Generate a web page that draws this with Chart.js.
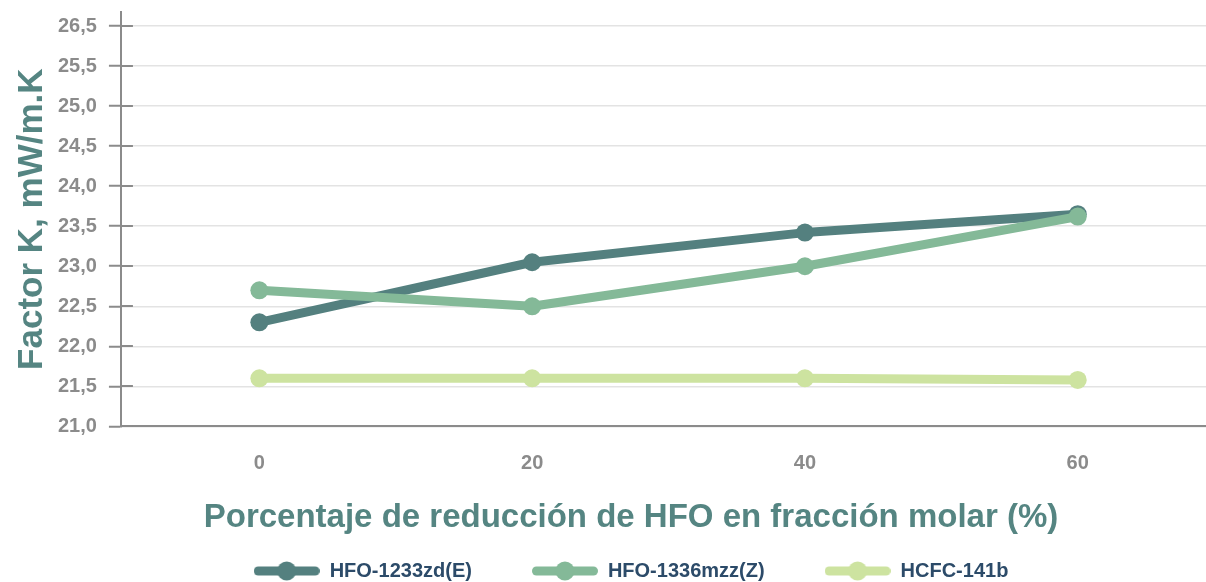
<!DOCTYPE html>
<html>
<head>
<meta charset="utf-8">
<script src="https://cdn.jsdelivr.net/npm/chart.js@4.4.1/dist/chart.umd.min.js"></script>
<style>
  html, body { margin: 0; padding: 0; background: #ffffff; overflow: hidden; }
  #wrap { width: 1262px; height: 582px; }
</style>
</head>
<body>
<div id="wrap"><canvas id="c" width="1262" height="582"></canvas></div>
<script>
// ---- data ----
const categories = [0, 20, 40, 60];
const seriesNames = ['HFO-1233zd(E)', 'HFO-1336mzz(Z)', 'HCFC-141b'];
const hfo1233zd = [22.3, 23.05, 23.42, 23.65];
const hfo1336mzz = [22.7, 22.5, 23.0, 23.62];
const hcfc141b = [21.6, 21.6, 21.6, 21.58];
const yTickValues = [21.0, 21.5, 22.0, 22.5, 23.0, 23.5, 24.0, 24.5, 25.0, 25.5, 26.0];
const yTickLabels = ['21,0', '21,5', '22,0', '22,5', '23,0', '23,5', '24,0', '24,5', '25,0', '25,5', '26,5'];
const xTitle = 'Porcentaje de reducción de HFO en fracción molar (%)';
const yTitle = 'Factor K, mW/m.K';

// ---- styles ----
const colors = ['#54807f', '#84b998', '#cde3a0'];
const FONT = "'Liberation Sans', Arial, Helvetica, sans-serif";
const tickGray = '#8b8b8b';
const titleColor = '#558582';
const legendColor = '#2c4b69';

function makeSwatch(color) {
  const cv = document.createElement('canvas');
  cv.width = 66; cv.height = 20;
  const g = cv.getContext('2d');
  g.strokeStyle = color; g.fillStyle = color;
  g.lineWidth = 9; g.lineCap = 'round';
  g.beginPath(); g.moveTo(4.5, 10); g.lineTo(61.5, 10); g.stroke();
  g.beginPath(); g.arc(33, 10, 9.5, 0, Math.PI * 2); g.fill();
  return cv;
}
const swatches = colors.map(makeSwatch);

function toPoints(vals) { return categories.map((c, i) => ({ x: c, y: vals[i] })); }

const allSeries = [hfo1233zd, hfo1336mzz, hcfc141b];
const drawOrder = [2, 1, 3];
const datasets = allSeries.map((vals, i) => ({
  label: seriesNames[i],
  data: toPoints(vals),
  borderColor: colors[i],
  backgroundColor: colors[i],
  borderWidth: 9,
  pointRadius: 9,
  pointHoverRadius: 9,
  pointBorderWidth: 0,
  pointBackgroundColor: colors[i],
  borderCapStyle: 'round',
  borderJoinStyle: 'round',
  tension: 0,
  order: drawOrder[i]
}));

const innerTicks = {
  id: 'innerTicks',
  beforeDatasetsDraw(chart) {
    const y = chart.scales.y;
    const ctx = chart.ctx;
    ctx.save();
    ctx.strokeStyle = '#8b8b8b';
    ctx.lineWidth = 2;
    y.ticks.forEach(t => {
      const py = Math.round(y.getPixelForValue(t.value));
      ctx.beginPath();
      ctx.moveTo(chart.chartArea.left, py);
      ctx.lineTo(chart.chartArea.left + 12, py);
      ctx.stroke();
    });
    ctx.restore();
  }
};

new Chart(document.getElementById('c'), {
  type: 'line',
  data: { datasets },
  plugins: [innerTicks],
  options: {
    responsive: false,
    animation: false,
    devicePixelRatio: 1,
    events: [],
    layout: { padding: { top: 12, left: 0, right: 0, bottom: -9 } },
    scales: {
      x: {
        type: 'linear',
        min: -10.15,
        max: 72.85,
        afterBuildTicks: (s) => { s.ticks = categories.map(v => ({ value: v })); },
        afterFit: (s) => { s.height -= s.options.ticks.padding; },
        grid: { display: false, drawTicks: false },
        border: { display: true, color: '#8b8b8b', width: 2 },
        ticks: {
          padding: 25,
          color: tickGray,
          font: { family: FONT, size: 20, weight: 'bold' },
          callback: (v) => String(v)
        }
      },
      y: {
        type: 'linear',
        min: 21,
        max: 26.175,
        afterBuildTicks: (s) => { s.ticks = yTickValues.map(v => ({ value: v })); },
        afterFit: (s) => { s.paddingTop = 0; s.paddingBottom = 0; s.width -= s.options.ticks.padding; },
        grid: {
          color: '#e3e3e3',
          lineWidth: 1.5,
          tickLength: 12,
          tickColor: '#8b8b8b',
          tickWidth: 2
        },
        border: { display: true, color: '#8b8b8b', width: 2 },
        ticks: {
          padding: 12,
          color: tickGray,
          font: { family: FONT, size: 20, weight: 'bold' },
          callback: (v) => {
            const i = yTickValues.findIndex(t => Math.abs(t - v) < 1e-6);
            return i >= 0 ? yTickLabels[i] : '';
          }
        },
        title: {
          display: true,
          text: yTitle,
          color: titleColor,
          font: { family: FONT, size: 35, weight: 'bold', lineHeight: 1.2 },
          padding: { top: 11, bottom: 5 }
        }
      }
    },
    plugins: {
      tooltip: { enabled: false },
      title: {
        display: true,
        position: 'bottom',
        text: xTitle,
        color: titleColor,
        font: { family: FONT, size: 33, weight: 'bold', lineHeight: 1.2 },
        padding: { top: 23, bottom: -37 }
      },
      legend: {
        display: true,
        position: 'bottom',
        weight: 3000,
        labels: {
          usePointStyle: true,
          pointStyleWidth: 66,
          padding: 60,
          color: legendColor,
          font: { family: FONT, size: 20, weight: 'bold' },
          sort: (a, b) => a.datasetIndex - b.datasetIndex,
          generateLabels: (chart) => {
            const items = Chart.defaults.plugins.legend.labels.generateLabels(chart);
            items.forEach(it => { it.pointStyle = swatches[it.datasetIndex]; });
            return items;
          }
        }
      }
    }
  }
});
</script>
</body>
</html>
